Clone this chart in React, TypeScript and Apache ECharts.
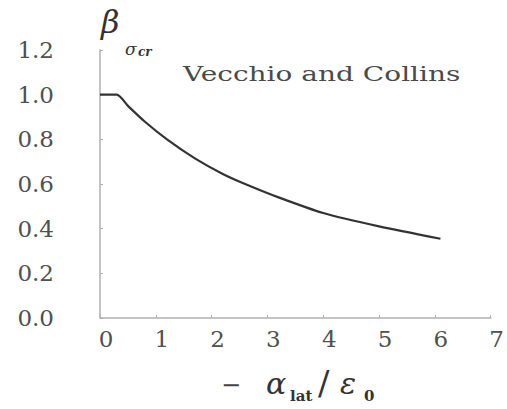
import React, { useEffect, useRef } from "react";
import * as echarts from "echarts";

const xValues = [0, 0.3, 0.5, 0.8, 1.2, 1.7, 2.2, 2.6, 3.2, 4.0, 5.0, 6.1];
const betaValues = [1.0, 1.0, 0.95, 0.88, 0.8, 0.715, 0.645, 0.6, 0.54, 0.47, 0.41, 0.355];
const seriesName = "Vecchio and Collins";

const SERIF = "'DejaVu Serif', 'Liberation Serif', serif";

export default function App() {
  const ref = useRef<HTMLDivElement>(null);
  useEffect(() => {
    if (!ref.current) return;
    const chart = echarts.init(ref.current, undefined, { renderer: "svg" });
    chart.setOption({
      animation: false,
      backgroundColor: "#ffffff",
      grid: { left: 100, right: 9, top: 50, bottom: 91, containLabel: false },
      xAxis: {
        type: "value",
        min: 0,
        max: 7,
        interval: 1,
        axisLine: { show: true, lineStyle: { color: "#c4c4c4", width: 2 } },
        axisTick: { show: true, length: 3, inside: true, lineStyle: { color: "#b0b0b0" } },
        splitLine: { show: false },
        axisLabel: {
          color: "#505050",
          fontFamily: SERIF,
          fontSize: 23,
          margin: 9,
          padding: [0, 0, 0, 12],
        },
      },
      yAxis: {
        type: "value",
        min: 0,
        max: 1.2,
        interval: 0.2,
        axisLine: { show: true, lineStyle: { color: "#c4c4c4", width: 2 } },
        axisTick: { show: true, length: 3, inside: true, lineStyle: { color: "#b0b0b0" } },
        splitLine: { show: false },
        axisLabel: {
          color: "#505050",
          fontFamily: SERIF,
          fontSize: 23,
          margin: 46,
          formatter: (v: number) => v.toFixed(1),
        },
      },
      series: [
        {
          name: seriesName,
          type: "line",
          data: xValues.map((x, i) => [x, betaValues[i]]),
          showSymbol: false,
          smooth: 0.25,
          lineStyle: { color: "#333333", width: 2.2 },
        },
      ],
      graphic: [
        {
          type: "text",
          x: 183,
          y: 64,
          scaleX: 1.4,
          style: { text: seriesName, font: `20px ${SERIF}`, fill: "#4a4a4a" },
        },
        {
          type: "text",
          x: 101,
          y: 6,
          style: { text: "β", font: `italic 32px ${SERIF}`, fill: "#333" },
        },
        {
          type: "text",
          x: 125,
          y: 40,
          style: { text: "σ", font: `italic 17px ${SERIF}`, fill: "#333" },
        },
        {
          type: "text",
          x: 138,
          y: 46,
          style: { text: "cr", font: `italic bold 12px ${SERIF}`, fill: "#333" },
        },
        {
          type: "text",
          x: 221,
          y: 373,
          style: { text: "−", font: `24px ${SERIF}`, fill: "#444" },
        },
        {
          type: "text",
          x: 266,
          y: 368,
          style: { text: "α", font: `italic 30px ${SERIF}`, fill: "#333" },
        },
        {
          type: "text",
          x: 290,
          y: 388,
          style: { text: "lat", font: `bold 15px ${SERIF}`, fill: "#333" },
        },
        {
          type: "text",
          x: 318,
          y: 366,
          style: { text: "/", font: `34px ${SERIF}`, fill: "#333" },
        },
        {
          type: "text",
          x: 340,
          y: 368,
          style: { text: "ε", font: `italic 30px ${SERIF}`, fill: "#333" },
        },
        {
          type: "text",
          x: 364,
          y: 388,
          style: { text: "0", font: `bold 15px ${SERIF}`, fill: "#333" },
        },
      ],
    });
    return () => chart.dispose();
  }, []);
  return (
    <div
      ref={ref}
      style={{ position: "fixed", left: 0, top: 0, width: 507, height: 409 }}
    />
  );
}
